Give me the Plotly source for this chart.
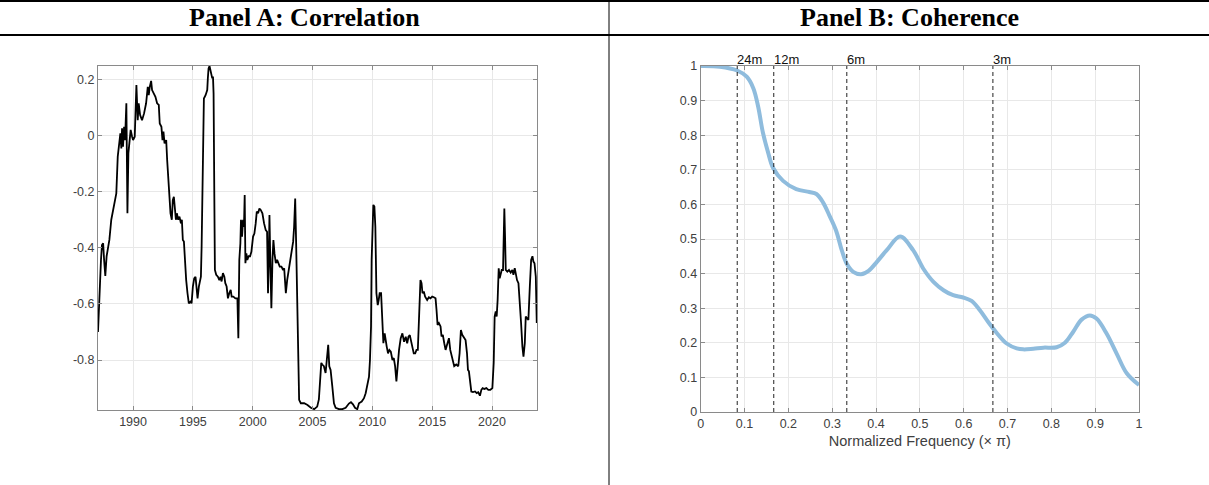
import plotly.graph_objects as go

# ---------------- Panel A: rolling correlation ----------------
years = [
    1987.07, 1987.18, 1987.32, 1987.40, 1987.50, 1987.58, 1987.68, 1987.79, 1987.88, 1988.02,
    1988.18, 1988.38, 1988.52, 1988.60, 1988.72, 1988.85, 1988.94, 1989.02, 1989.08, 1989.16,
    1989.25, 1989.33, 1989.44, 1989.53, 1989.61, 1989.69, 1989.80, 1989.92, 1990.00, 1990.14,
    1990.28, 1990.39, 1990.47, 1990.59, 1990.75, 1990.92, 1991.09, 1991.23, 1991.31, 1991.40,
    1991.51, 1991.59, 1991.73, 1991.87, 1992.01, 1992.15, 1992.23, 1992.37, 1992.46, 1992.54,
    1992.63, 1992.77, 1992.85, 1992.99, 1993.13, 1993.24, 1993.32, 1993.41, 1993.49, 1993.58,
    1993.66, 1993.77, 1993.88, 1994.00, 1994.08, 1994.16, 1994.25, 1994.33, 1994.44, 1994.55,
    1994.66, 1994.80, 1994.89, 1995.00, 1995.11, 1995.22, 1995.31, 1995.39, 1995.50, 1995.59,
    1995.67, 1995.73, 1995.84, 1995.92, 1996.06, 1996.20, 1996.25, 1996.31, 1996.39, 1996.45,
    1996.62, 1996.68, 1996.73, 1996.79, 1996.84, 1996.95, 1997.09, 1997.21, 1997.32, 1997.40,
    1997.51, 1997.63, 1997.71, 1997.82, 1997.93, 1998.04, 1998.16, 1998.24, 1998.38, 1998.55,
    1998.72, 1998.80, 1998.88, 1998.97, 1999.02, 1999.11, 1999.19, 1999.27, 1999.33, 1999.39,
    1999.47, 1999.55, 1999.66, 1999.78, 1999.89, 2000.03, 2000.14, 2000.25, 2000.34, 2000.45,
    2000.56, 2000.67, 2000.81, 2000.95, 2001.09, 2001.20, 2001.28, 2001.34, 2001.40, 2001.48,
    2001.56, 2001.65, 2001.73, 2001.82, 2001.93, 2002.04, 2002.15, 2002.26, 2002.40, 2002.54,
    2002.63, 2002.77, 2002.88, 2003.04, 2003.21, 2003.38, 2003.46, 2003.55, 2003.63, 2003.72,
    2003.80, 2003.88, 2004.02, 2004.30, 2004.58, 2004.86, 2005.14, 2005.39, 2005.53, 2005.64,
    2005.73, 2005.81, 2005.95, 2006.09, 2006.23, 2006.31, 2006.40, 2006.51, 2006.65, 2006.79,
    2006.93, 2007.21, 2007.49, 2007.77, 2008.04, 2008.21, 2008.38, 2008.55, 2008.74, 2008.88,
    2009.11, 2009.30, 2009.44, 2009.58, 2009.72, 2009.80, 2009.89, 2009.94, 2010.00, 2010.08,
    2010.17, 2010.25, 2010.34, 2010.45, 2010.53, 2010.61, 2010.73, 2010.81, 2010.92, 2011.03,
    2011.12, 2011.20, 2011.31, 2011.42, 2011.54, 2011.68, 2011.79, 2011.90, 2012.01, 2012.09,
    2012.23, 2012.37, 2012.51, 2012.65, 2012.79, 2012.91, 2013.02, 2013.13, 2013.24, 2013.35,
    2013.46, 2013.58, 2013.69, 2013.80, 2013.91, 2014.02, 2014.11, 2014.19, 2014.30, 2014.41,
    2014.58, 2014.72, 2014.86, 2015.00, 2015.14, 2015.28, 2015.36, 2015.45, 2015.56, 2015.70,
    2015.78, 2015.89, 2016.01, 2016.12, 2016.20, 2016.28, 2016.40, 2016.51, 2016.62, 2016.73,
    2016.84, 2017.01, 2017.18, 2017.29, 2017.40, 2017.51, 2017.65, 2017.79, 2017.91, 2017.99,
    2018.07, 2018.16, 2018.27, 2018.41, 2018.58, 2018.72, 2018.85, 2018.99, 2019.11, 2019.22,
    2019.36, 2019.53, 2019.69, 2019.86, 2020.03, 2020.14, 2020.22, 2020.31, 2020.39, 2020.47,
    2020.56, 2020.64, 2020.73, 2020.81, 2020.92, 2020.98, 2021.03, 2021.09, 2021.15, 2021.28,
    2021.42, 2021.56, 2021.70, 2021.79, 2021.90, 2021.98, 2022.09, 2022.21, 2022.32, 2022.43,
    2022.54, 2022.63, 2022.74, 2022.82, 2022.93, 2023.04, 2023.16, 2023.27, 2023.38, 2023.46,
    2023.55, 2023.66, 2023.74,
]
correlation = [
    -0.700, -0.560, -0.443, -0.390, -0.384, -0.443, -0.500, -0.430, -0.408, -0.372,
    -0.300, -0.253, -0.230, -0.206, -0.075, -0.028, 0.008, -0.046, 0.026, -0.040,
    0.031, -0.016, 0.115, -0.277, -0.063, -0.028, 0.020, -0.004, -0.016, -0.004,
    0.180, 0.055, 0.115, 0.073, 0.055, 0.079, 0.115, 0.174, 0.144, 0.174,
    0.195, 0.162, 0.150, 0.138, 0.115, 0.109, 0.043, 0.031, -0.016, 0.014,
    -0.028, -0.016, -0.087, -0.206, -0.277, -0.300, -0.230, -0.218, -0.277, -0.300,
    -0.277, -0.300, -0.289, -0.313, -0.300, -0.372, -0.378, -0.443, -0.515, -0.562,
    -0.598, -0.592, -0.598, -0.538, -0.509, -0.503, -0.550, -0.580, -0.538, -0.515,
    -0.503, -0.396, 0.031, 0.132, 0.144, 0.162, 0.204, 0.239, 0.248, 0.239,
    0.204, 0.210, 0.150, -0.206, -0.479, -0.496, -0.503, -0.515, -0.503, -0.520,
    -0.490, -0.503, -0.526, -0.538, -0.580, -0.562, -0.550, -0.574, -0.574, -0.580,
    -0.580, -0.722, -0.443, -0.384, -0.300, -0.360, -0.300, -0.325, -0.212, -0.455,
    -0.420, -0.443, -0.430, -0.430, -0.414, -0.360, -0.349, -0.313, -0.271, -0.277,
    -0.260, -0.265, -0.277, -0.313, -0.337, -0.343, -0.562, -0.443, -0.283, -0.467,
    -0.615, -0.443, -0.372, -0.420, -0.455, -0.443, -0.455, -0.467, -0.467, -0.479,
    -0.473, -0.562, -0.515, -0.467, -0.420, -0.378, -0.325, -0.224, -0.384, -0.620,
    -0.859, -0.942, -0.954, -0.954, -0.960, -0.970, -0.975, -0.966, -0.940, -0.871,
    -0.810, -0.816, -0.822, -0.846, -0.793, -0.746, -0.822, -0.835, -0.893, -0.954,
    -0.970, -0.975, -0.975, -0.970, -0.955, -0.950, -0.958, -0.970, -0.975, -0.954,
    -0.948, -0.936, -0.918, -0.893, -0.859, -0.800, -0.680, -0.443, -0.300, -0.247,
    -0.253, -0.325, -0.562, -0.604, -0.586, -0.562, -0.562, -0.633, -0.740, -0.705,
    -0.740, -0.752, -0.776, -0.764, -0.770, -0.800, -0.793, -0.822, -0.876, -0.822,
    -0.764, -0.722, -0.705, -0.735, -0.717, -0.740, -0.717, -0.711, -0.735, -0.746,
    -0.776, -0.776, -0.764, -0.764, -0.657, -0.515, -0.526, -0.562, -0.556, -0.574,
    -0.586, -0.576, -0.580, -0.574, -0.576, -0.580, -0.620, -0.675, -0.668, -0.680,
    -0.716, -0.710, -0.740, -0.764, -0.752, -0.735, -0.722, -0.764, -0.788, -0.810,
    -0.822, -0.816, -0.822, -0.776, -0.693, -0.710, -0.722, -0.729, -0.776, -0.835,
    -0.840, -0.882, -0.912, -0.914, -0.912, -0.918, -0.915, -0.927, -0.906, -0.900,
    -0.903, -0.900, -0.906, -0.906, -0.900, -0.810, -0.645, -0.627, -0.645, -0.586,
    -0.473, -0.509, -0.490, -0.479, -0.479, -0.360, -0.260, -0.360, -0.479, -0.485,
    -0.479, -0.488, -0.479, -0.496, -0.473, -0.490, -0.515, -0.526, -0.586, -0.669,
    -0.752, -0.788, -0.740, -0.645, -0.651, -0.657, -0.538, -0.443, -0.430, -0.449,
    -0.455, -0.503, -0.668,
]
a_xticks = [1990, 1995, 2000, 2005, 2010, 2015, 2020]
a_xticklabels = ["1990", "1995", "2000", "2005", "2010", "2015", "2020"]
a_yticks = [-0.8, -0.6, -0.4, -0.2, 0.0, 0.2]
a_yticklabels = ["-0.8", "-0.6", "-0.4", "-0.2", "0", "0.2"]

# ---------------- Panel B: coherence ----------------
freq = [0.0, 0.044, 0.083, 0.105, 0.12, 0.131, 0.142, 0.154, 0.165, 0.188,
        0.218, 0.248, 0.264, 0.279, 0.294, 0.309, 0.322, 0.333, 0.348, 0.366,
        0.383, 0.402, 0.424, 0.455, 0.485, 0.508, 0.531, 0.554, 0.576, 0.599,
        0.618, 0.637, 0.656, 0.675, 0.698, 0.721, 0.736, 0.759, 0.782, 0.812,
        0.831, 0.85, 0.869, 0.888, 0.903, 0.926, 0.949, 0.972, 1.0]
coherence = [1.0, 0.998, 0.987, 0.969, 0.936, 0.883, 0.807, 0.749, 0.706, 0.668,
             0.644, 0.636, 0.630, 0.606, 0.567, 0.524, 0.467, 0.429, 0.405, 0.398,
             0.408, 0.434, 0.467, 0.507, 0.467, 0.414, 0.376, 0.352, 0.3375, 0.331,
             0.321, 0.294, 0.260, 0.229, 0.198, 0.184, 0.181, 0.183, 0.186, 0.187,
             0.200, 0.232, 0.267, 0.279, 0.270, 0.227, 0.169, 0.112, 0.078]
period_months = [24, 12, 6, 3]
period_labels = ["24m", "12m", "6m", "3m"]
b_ticks = [0, 0.1, 0.2, 0.3, 0.4, 0.5, 0.6, 0.7, 0.8, 0.9, 1]
b_ticklabels = ["0", "0.1", "0.2", "0.3", "0.4", "0.5", "0.6", "0.7", "0.8", "0.9", "1"]

panel_titles = ["Panel A: Correlation", "Panel B: Coherence"]
b_xtitle = "Normalized Frequency (\u00d7 \u03c0)"

# ---------------- Figure ----------------
W, H = 1209, 485
SANS = "Liberation Sans, Arial, sans-serif"
TICKFONT = dict(family=SANS, size=12.5, color="#404040")
AXCOL = "#8a8a8a"
GRIDCOL = "#e8e8e8"

fig = go.Figure()
fig.add_trace(go.Scatter(x=years, y=correlation, mode="lines",
                         line=dict(color="black", width=1.8),
                         xaxis="x", yaxis="y", showlegend=False, hoverinfo="skip"))
fig.add_trace(go.Scatter(x=freq, y=coherence, mode="lines",
                         line=dict(color="#8fbcdd", width=4, shape="spline", smoothing=1.0),
                         xaxis="x2", yaxis="y2", showlegend=False, hoverinfo="skip"))

axis_common = dict(showline=True, linecolor=AXCOL, linewidth=1, mirror="ticks",
                   ticks="inside", ticklen=4, tickcolor=AXCOL, tickwidth=1,
                   showgrid=True, gridcolor=GRIDCOL, gridwidth=1, zeroline=False,
                   tickfont=TICKFONT, fixedrange=True, automargin=False)

def xd(a, b):
    return [a / W, b / W]

def yd(top, bottom):
    return [1 - bottom / H, 1 - top / H]

fig.update_layout(
    template="none",
    width=W, height=H, margin=dict(l=0, r=0, t=0, b=0, pad=0, autoexpand=False),
    paper_bgcolor="white", plot_bgcolor="white",
    xaxis=dict(domain=xd(98, 537), range=[years[0], years[-1] + 0.02],
               tickvals=a_xticks, ticktext=a_xticklabels, anchor="y", **axis_common),
    yaxis=dict(domain=yd(65.7, 410), range=[-0.978, 0.249],
               tickvals=a_yticks, ticktext=a_yticklabels, anchor="x", **axis_common),
    xaxis2=dict(domain=xd(700.7, 1139), range=[0, 1],
                tickvals=b_ticks, ticktext=b_ticklabels, anchor="y2",
                title=dict(text=b_xtitle, standoff=5,
                           font=dict(family=SANS, size=14.5, color="#404040")),
                **axis_common),
    yaxis2=dict(domain=yd(66, 412), range=[0, 1],
                tickvals=b_ticks, ticktext=b_ticklabels, anchor="x2", **axis_common),
)

# period reference lines (frequency in units of pi: 2 / period)
for p, lab in zip(period_months, period_labels):
    f = 2.0 / p
    fig.add_shape(type="line", xref="x2", yref="y2", x0=f, x1=f, y0=0, y1=1,
                  line=dict(color="#222222", width=1, dash="4px,3px"))
    fig.add_annotation(x=f, xref="x2", y=1, yref="y2", text=lab, showarrow=False,
                       xanchor="left", yanchor="bottom", xshift=-2, yshift=-3,
                       font=dict(family=SANS, size=13, color="#111111"))

# table decoration: header rules, divider, titles
fig.add_shape(type="line", xref="paper", yref="paper", x0=0, x1=1, y0=1 - 1 / H, y1=1 - 1 / H,
              line=dict(color="black", width=2))
fig.add_shape(type="line", xref="paper", yref="paper", x0=0, x1=1, y0=1 - 35 / H, y1=1 - 35 / H,
              line=dict(color="black", width=2))
fig.add_shape(type="line", xref="paper", yref="paper", x0=609 / W, x1=609 / W, y0=0, y1=1,
              line=dict(color="black", width=1))
for cx, t in zip([304.5, 909], panel_titles):
    fig.add_annotation(x=cx / W, xref="paper", y=1 - 17.5 / H, yref="paper", text="<b>" + t + "</b>",
                       showarrow=False, xanchor="center", yanchor="middle",
                       font=dict(family="Liberation Serif, Times New Roman, serif", size=26, color="black"))

fig.write_html("out.html")
